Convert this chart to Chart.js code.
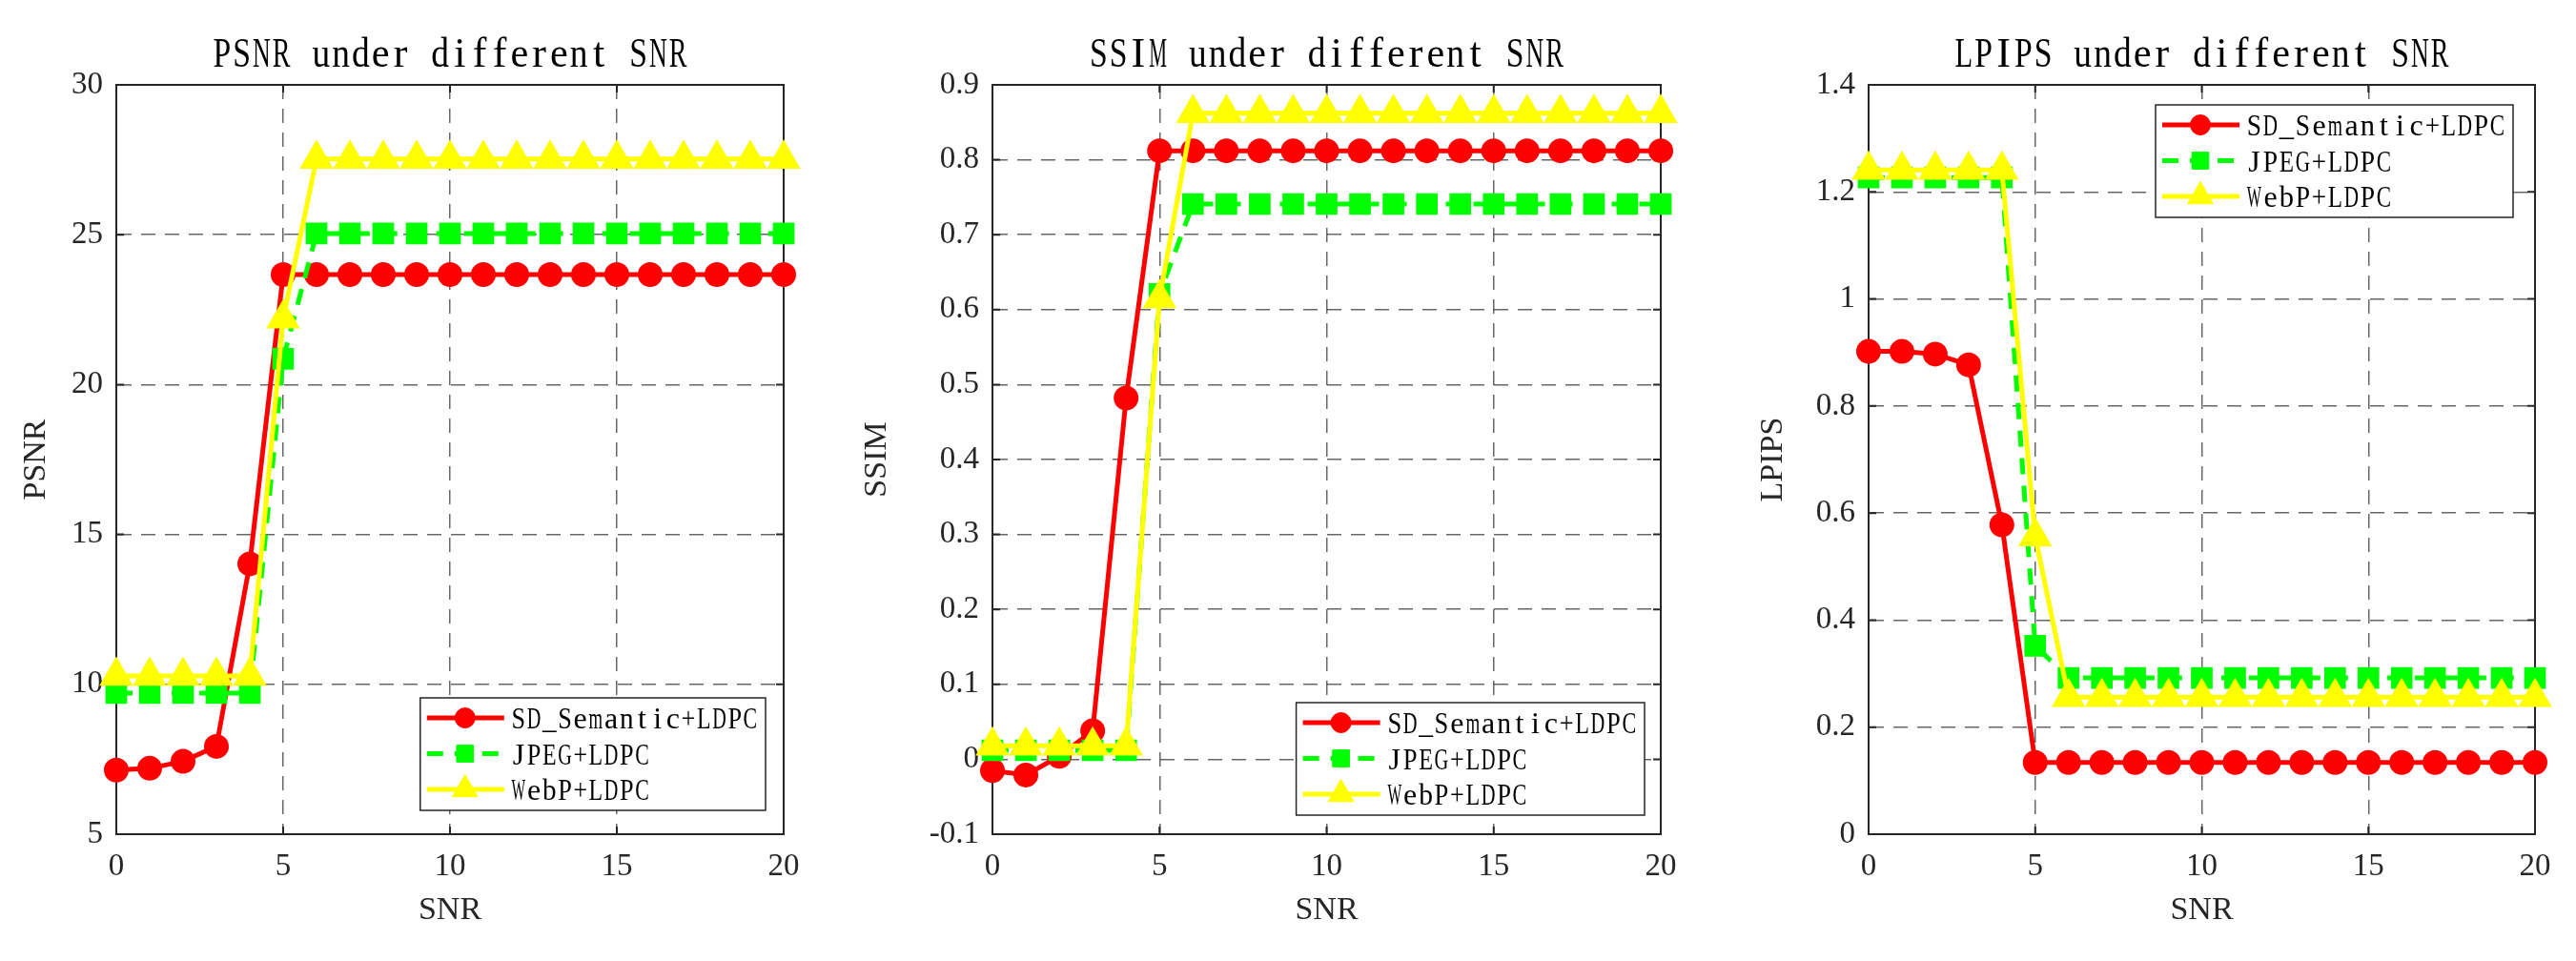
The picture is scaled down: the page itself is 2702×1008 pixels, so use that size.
<!DOCTYPE html>
<html>
<head>
<meta charset="utf-8">
<title>PSNR / SSIM / LPIPS under different SNR</title>
<script src="https://cdn.jsdelivr.net/npm/chart.js@4/dist/chart.umd.min.js"></script>
<style>
  html, body { margin: 0; padding: 0; background: #fff; }
  #wrap { position: relative; width: 2702px; height: 1008px; }
  .panel { position: absolute; top: 0; height: 1008px; }
</style>
</head>
<body>
<div id="wrap">
  <div class="panel" style="left:0;width:900px"><canvas id="psnr"></canvas></div>
  <div class="panel" style="left:900px;width:900px"><canvas id="ssim"></canvas></div>
  <div class="panel" style="left:1800px;width:902px"><canvas id="lpips"></canvas></div>
</div>
<script>
// SNR values on the x axis
const snr = [0, 1, 2, 3, 4, 5, 6, 7, 8, 9, 10, 11, 12, 13, 14, 15, 16, 17, 18, 19, 20];

const seriesNames = ['SD_Semantic+LDPC', 'JPEG+LDPC', 'WebP+LDPC'];

// PSNR panel
const psnrSemantic = [7.14, 7.20, 7.43, 7.93, 14.02, 23.67, 23.67, 23.67, 23.67, 23.67, 23.67, 23.67, 23.67, 23.67, 23.67, 23.67, 23.67, 23.67, 23.67, 23.67, 23.67];
const psnrJpeg     = [9.71, 9.71, 9.71, 9.71, 9.71, 20.86, 25.04, 25.04, 25.04, 25.04, 25.04, 25.04, 25.04, 25.04, 25.04, 25.04, 25.04, 25.04, 25.04, 25.04, 25.04];
const psnrWebp     = [10.28, 10.28, 10.28, 10.28, 10.28, 22.2, 27.53, 27.53, 27.53, 27.53, 27.53, 27.53, 27.53, 27.53, 27.53, 27.53, 27.53, 27.53, 27.53, 27.53, 27.53];

// SSIM panel
const ssimSemantic = [-0.015, -0.021, 0.004, 0.038, 0.482, 0.812, 0.812, 0.812, 0.812, 0.812, 0.812, 0.812, 0.812, 0.812, 0.812, 0.812, 0.812, 0.812, 0.812, 0.812, 0.812];
const ssimJpeg     = [0.012, 0.012, 0.012, 0.012, 0.012, 0.621, 0.741, 0.741, 0.741, 0.741, 0.741, 0.741, 0.741, 0.741, 0.741, 0.741, 0.741, 0.741, 0.741, 0.741, 0.741];
const ssimWebp     = [0.018, 0.018, 0.018, 0.018, 0.018, 0.615, 0.862, 0.862, 0.862, 0.862, 0.862, 0.862, 0.862, 0.862, 0.862, 0.862, 0.862, 0.862, 0.862, 0.862, 0.862];

// LPIPS panel
const lpipsSemantic = [0.902, 0.902, 0.897, 0.877, 0.578, 0.134, 0.134, 0.134, 0.134, 0.134, 0.134, 0.134, 0.134, 0.134, 0.134, 0.134, 0.134, 0.134, 0.134, 0.134, 0.134];
const lpipsJpeg     = [1.227, 1.227, 1.227, 1.227, 1.227, 0.352, 0.292, 0.292, 0.292, 0.292, 0.292, 0.292, 0.292, 0.292, 0.292, 0.292, 0.292, 0.292, 0.292, 0.292, 0.292];
const lpipsWebp     = [1.241, 1.241, 1.241, 1.241, 1.241, 0.556, 0.256, 0.256, 0.256, 0.256, 0.256, 0.256, 0.256, 0.256, 0.256, 0.256, 0.256, 0.256, 0.256, 0.256, 0.256];

const SERIF = "'Liberation Serif', 'DejaVu Serif', serif";
const AXIS_COLOR = '#262626';
const GRID_COLOR = 'rgba(38,38,38,0.7)';

// The MATLAB figure uses a fixed-pitch serif face (SimSun latin); fake it by
// putting each serif glyph in a fixed-width cell, squeezed if it is too wide.
function drawMonoText(ctx, text, x, y, adv) {
  for (let i = 0; i < text.length; i++) {
    const ch = text[i];
    if (ch === ' ') continue;
    const w = ctx.measureText(ch).width;
    const sx = Math.min(1, (adv * 0.9) / w);
    ctx.save();
    ctx.translate(x + adv * (i + 0.5), y);
    ctx.scale(sx, 1);
    ctx.textAlign = 'center';
    ctx.fillText(ch, 0, 0);
    ctx.restore();
  }
}

// axes box (MATLAB "box on") with small inward ticks
const framePlugin = {
  id: 'frame',
  beforeDatasetsDraw(chart) {
    const { ctx, chartArea: a, scales } = chart;
    ctx.save();
    ctx.strokeStyle = AXIS_COLOR;
    ctx.lineWidth = 2;
    ctx.setLineDash([]);
    ctx.strokeRect(a.left, a.top, a.right - a.left, a.bottom - a.top);
    const t = 8;
    ctx.beginPath();
    scales.x.ticks.forEach((tk) => {
      const px = scales.x.getPixelForValue(tk.value);
      ctx.moveTo(px, a.bottom); ctx.lineTo(px, a.bottom - t);
      ctx.moveTo(px, a.top); ctx.lineTo(px, a.top + t);
    });
    scales.y.ticks.forEach((tk) => {
      const py = scales.y.getPixelForValue(tk.value);
      ctx.moveTo(a.left, py); ctx.lineTo(a.left + t, py);
      ctx.moveTo(a.right, py); ctx.lineTo(a.right - t, py);
    });
    ctx.stroke();
    ctx.restore();
  }
};

// title centred over the plot area
const titlePlugin = {
  id: 'plotTitle',
  afterDraw(chart, args, opts) {
    const { ctx, chartArea: a } = chart;
    const adv = 20.8;
    ctx.save();
    ctx.font = '44px ' + SERIF;
    ctx.fillStyle = '#000';
    ctx.textBaseline = 'alphabetic';
    const x0 = (a.left + a.right) / 2 - (adv * opts.text.length) / 2;
    drawMonoText(ctx, opts.text, x0, opts.baseline, adv);
    ctx.restore();
  }
};

// legend box drawn inside the plot area, built from the datasets
const legendBoxPlugin = {
  id: 'legendBox',
  afterDatasetsDraw(chart, args, opts) {
    const { ctx, chartArea: a } = chart;
    const sets = chart.data.datasets;
    const adv = opts.adv;
    ctx.save();
    ctx.font = '32px ' + SERIF;
    const textW = adv * Math.max(...sets.map((d) => d.label.length));
    const rowH = 37.5, padTop = 21, padBottom = 22;
    const w = 95 + textW + 8;
    const h = padTop + padBottom + rowH * (sets.length - 1);
    const x = a.right - opts.right - w;
    const y = opts.top != null ? a.top + opts.top : a.bottom - opts.bottom - h;
    ctx.fillStyle = '#fff';
    ctx.fillRect(x, y, w, h);
    ctx.strokeStyle = AXIS_COLOR;
    ctx.lineWidth = 1.5;
    ctx.strokeRect(x, y, w, h);
    sets.forEach((d, i) => {
      const cy = y + padTop + i * rowH;
      ctx.save();
      ctx.strokeStyle = d.borderColor;
      ctx.lineWidth = d.borderWidth;
      ctx.setLineDash(d.borderDash || []);
      ctx.beginPath();
      ctx.moveTo(x + 7, cy);
      ctx.lineTo(x + 88, cy);
      ctx.stroke();
      ctx.setLineDash([]);
      ctx.fillStyle = d.pointBackgroundColor;
      ctx.strokeStyle = d.pointBorderColor;
      ctx.lineWidth = 1;
      Chart.helpers.drawPoint(ctx, { pointStyle: d.pointStyle, radius: d.pointRadius, rotation: 0, borderWidth: 1 }, x + 47, cy);
      ctx.restore();
      ctx.fillStyle = '#000';
      ctx.textBaseline = 'alphabetic';
      drawMonoText(ctx, d.label, x + 95, cy + 11, adv);
    });
    ctx.restore();
  }
};

function pts(values) {
  return snr.map((s, i) => ({ x: s, y: values[i] }));
}

function makeSets(a, b, c) {
  return [
    { label: seriesNames[0], data: pts(a), borderColor: '#ff0000', backgroundColor: '#ff0000',
      pointBackgroundColor: '#ff0000', pointBorderColor: '#ff0000', borderWidth: 5,
      pointStyle: 'circle', pointRadius: 10.5, order: 3 },
    { label: seriesNames[1], data: pts(b), borderColor: '#00ff00', backgroundColor: '#00ff00',
      pointBackgroundColor: '#00ff00', pointBorderColor: '#00ff00', borderWidth: 5, borderDash: [17, 12],
      pointStyle: 'rect', pointRadius: 12.5, order: 2 },
    { label: seriesNames[2], data: pts(c), borderColor: '#ffff00', backgroundColor: '#ffff00',
      pointBackgroundColor: '#ffff00', pointBorderColor: '#ffff00', borderWidth: 5,
      pointStyle: 'triangle', pointRadius: 15.5, order: 1 }
  ];
}

function makeChart(id, cfg) {
  return new Chart(document.getElementById(id), {
    type: 'line',
    data: { datasets: makeSets(cfg.a, cfg.b, cfg.c) },
    plugins: [framePlugin, legendBoxPlugin, titlePlugin],
    options: {
      responsive: true,
      maintainAspectRatio: false,
      animation: false,
      events: [],
      elements: { line: { tension: 0, fill: false }, point: { borderWidth: 1, hoverRadius: 0 } },
      datasets: { line: { clip: false } },
      layout: { padding: { top: 89, bottom: 23, left: cfg.padLeft, right: cfg.padRight } },
      plugins: {
        legend: { display: false },
        tooltip: { enabled: false },
        title: { display: false },
        plotTitle: { text: cfg.title, baseline: 70 },
        legendBox: cfg.legend
      },
      scales: {
        x: {
          type: 'linear',
          min: 0, max: 20,
          afterFit: (axis) => { axis.height = 110; },
          ticks: { stepSize: 5, color: AXIS_COLOR, padding: 15,
                   font: { family: SERIF, size: 33 }, maxRotation: 0 },
          grid: { color: GRID_COLOR, lineWidth: 1.5, drawTicks: false },
          border: { display: true, color: AXIS_COLOR, width: 2, dash: [15, 10] },
          title: { display: true, text: 'SNR', color: AXIS_COLOR,
                   font: { family: SERIF, size: 34 }, padding: { top: 10, bottom: 10 } }
        },
        y: {
          type: 'linear',
          min: cfg.yMin, max: cfg.yMax,
          afterFit: (axis) => { axis.width = cfg.yWidth; },
          ticks: { stepSize: cfg.yStep, color: AXIS_COLOR, padding: 14,
                   font: { family: SERIF, size: 33 },
                   callback: (v) => String(+v.toFixed(2)) },
          grid: { color: GRID_COLOR, lineWidth: 1.5, drawTicks: false },
          border: { display: true, color: AXIS_COLOR, width: 2, dash: [15, 10] },
          title: { display: true, text: cfg.yLabel, color: AXIS_COLOR,
                   font: { family: SERIF, size: 34 }, padding: { top: cfg.yTitlePad, bottom: cfg.yTitlePad } }
        }
      }
    }
  });
}

makeChart('psnr', {
  title: 'PSNR under different SNR', yLabel: 'PSNR',
  a: psnrSemantic, b: psnrJpeg, c: psnrWebp,
  yMin: 5, yMax: 30, yStep: 5,
  padLeft: 10, padRight: 78, yWidth: 112, yTitlePad: 8,
  legend: { right: 19, bottom: 25, adv: 16.2 }
});

makeChart('ssim', {
  title: 'SSIM under different SNR', yLabel: 'SSIM',
  a: ssimSemantic, b: ssimJpeg, c: ssimWebp,
  yMin: -0.1, yMax: 0.9, yStep: 0.1,
  padLeft: 0, padRight: 58, yWidth: 141, yTitlePad: 0,
  legend: { right: 17, bottom: 20, adv: 16.4 }
});

makeChart('lpips', {
  title: 'LPIPS under different SNR', yLabel: 'LPIPS',
  a: lpipsSemantic, b: lpipsJpeg, c: lpipsWebp,
  yMin: 0, yMax: 1.4, yStep: 0.2,
  padLeft: 10, padRight: 43, yWidth: 150, yTitlePad: 30,
  legend: { right: 23, top: 21, adv: 17.0 }
});
</script>
</body>
</html>
